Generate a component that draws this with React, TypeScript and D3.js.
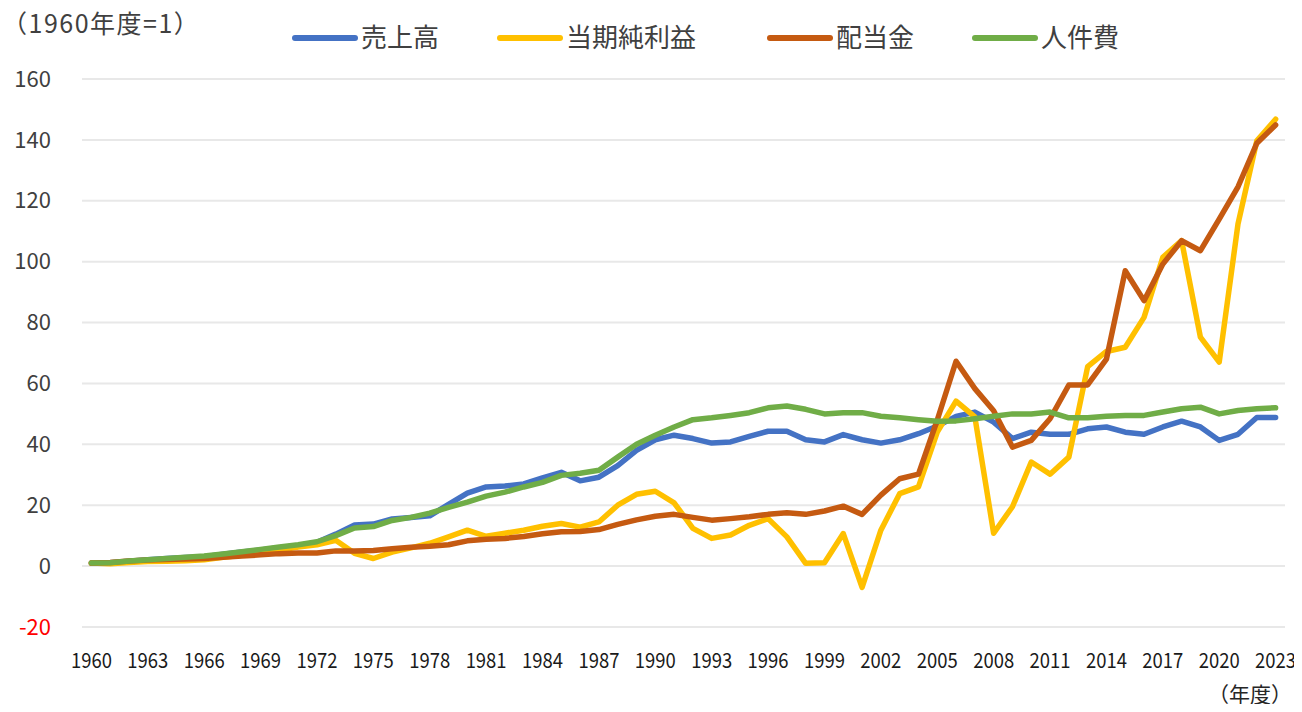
import { useEffect, useRef } from 'react'
import { line, scaleLinear, scalePoint, select } from 'd3'

const years = Array.from({ length: 64 }, (_, i) => 1960 + i)

const sales = [
  1, 1.1, 1.6, 2.1, 2.5, 2.8, 3.1, 3.9, 4.6, 5.3,
  6.0, 6.8, 7.8, 10.5, 13.5, 13.8, 15.5, 16, 16.5, 20.3,
  24, 26, 26.3, 27, 29, 30.8, 28, 29.2, 33, 38,
  41.5, 43, 41.9, 40.4, 40.8, 42.6, 44.3, 44.3, 41.5, 40.8,
  43.2, 41.5, 40.4, 41.5, 43.5, 46, 49.2, 50.6, 47.3, 41.9,
  44, 43.3, 43.3, 45.1, 45.7, 44, 43.3, 45.7, 47.6, 45.7,
  41.3, 43.3, 48.8, 48.8,
]

const netIncome = [
  1, 0.8, 1.2, 1.5, 1.6, 1.8, 2.1, 2.9, 3.6, 4.5,
  5.2, 6.3, 7.0, 8.5, 4.2, 2.5, 4.6, 6, 7.5, 9.6,
  11.8, 9.8, 10.8, 11.8, 13.1, 14, 12.8, 14.5, 20, 23.6,
  24.6, 20.8, 12.4, 9.1, 10.2, 13.4, 15.6, 9.6, 0.9, 1.1,
  10.7, -7, 11.8, 23.8, 26, 44, 54.2, 49, 10.8, 19.5,
  34.2, 30.2, 35.8, 65.5, 70.5, 71.9, 81.7, 101.4, 106.9, 75.2,
  67, 112.4, 139.7, 146.8,
]

const dividends = [
  1, 1.2, 1.7, 2.0, 2.2, 2.3, 2.5, 2.9, 3.3, 3.7,
  4.1, 4.3, 4.3, 5, 5, 5.1, 5.7, 6.2, 6.5, 7.0,
  8.3, 8.8, 9.1, 9.7, 10.6, 11.3, 11.4, 12, 13.7, 15.2,
  16.4, 17, 16, 15.1, 15.6, 16.2, 17, 17.5, 17, 18.1,
  19.7, 17, 23.3, 28.7, 30.2, 48, 67.3, 58.3, 51, 39.1,
  41.3, 48.4, 59.5, 59.5, 68, 97, 87.2, 99.2, 106.9, 103.6,
  114, 124.6, 138.9, 144.9,
]

const laborCost = [
  1, 1.1, 1.7, 2.1, 2.5, 2.9, 3.3, 4.0, 4.7, 5.5,
  6.3, 7.0, 8.0, 10, 12.5, 13, 15, 16, 17.4, 19.3,
  21, 23, 24.3, 26, 27.5, 29.8, 30.5, 31.5, 35.8, 40,
  43, 45.7, 48.1, 48.7, 49.5, 50.4, 52, 52.6, 51.5, 50,
  50.4, 50.4, 49.2, 48.7, 48.1, 47.6, 47.7, 48.4, 49.2, 50,
  50, 50.6, 48.7, 48.7, 49.2, 49.5, 49.5, 50.6, 51.7, 52.2,
  50, 51.1, 51.7, 52,
]

const yTicks = [-20, 0, 20, 40, 60, 80, 100, 120, 140, 160]
const xTickYears = years.filter((y) => (y - 1960) % 3 === 0)

const series = [
  { name: '売上高', values: sales, color: '#4472C4' },
  { name: '当期純利益', values: netIncome, color: '#FFC000' },
  { name: '配当金', values: dividends, color: '#C55A11' },
  { name: '人件費', values: laborCost, color: '#70AD47' },
]

const legendX = [295, 500, 770, 975]

const W = 1302
const H = 712
const plot = { left: 82, right: 1285, top: 79, bottom: 627 }
const font = "'Noto Sans CJK JP', 'Noto Sans', sans-serif"

const App = () => {
  const ref = useRef<SVGSVGElement | null>(null)

  useEffect(() => {
    const svg = select(ref.current)
    svg.selectAll('*').remove()

    const x = scalePoint<number>()
      .domain(years)
      .range([plot.left, plot.right])
      .padding(0.5)
    const y = scaleLinear().domain([-20, 160]).range([plot.bottom, plot.top])

    // gridlines
    svg
      .append('g')
      .selectAll('line')
      .data(yTicks)
      .enter()
      .append('line')
      .attr('x1', plot.left)
      .attr('x2', plot.right)
      .attr('y1', (d) => y(d))
      .attr('y2', (d) => y(d))
      .attr('stroke', '#e8e8e8')
      .attr('stroke-width', 2)

    // y labels
    svg
      .append('g')
      .selectAll('text')
      .data(yTicks)
      .enter()
      .append('text')
      .attr('x', 51)
      .attr('y', (d) => y(d))
      .attr('dy', '0.35em')
      .attr('text-anchor', 'end')
      .attr('font-family', font)
      .attr('font-size', 22)
      .attr('fill', (d) => (d < 0 ? '#ff0000' : '#404040'))
      .text((d) => d)

    // x labels
    svg
      .append('g')
      .selectAll('text')
      .data(xTickYears)
      .enter()
      .append('text')
      .attr('x', (d) => x(d)!)
      .attr('y', 668)
      .attr('text-anchor', 'middle')
      .attr('font-family', font)
      .attr('font-size', 21)
      .attr('textLength', 41)
      .attr('lengthAdjust', 'spacingAndGlyphs')
      .attr('fill', '#1a1a1a')
      .text((d) => d)

    const path = line<number>()
      .x((_, i) => x(years[i])!)
      .y((d) => y(d))

    series.forEach((s) => {
      svg
        .append('path')
        .datum(s.values)
        .attr('d', path)
        .attr('fill', 'none')
        .attr('stroke', s.color)
        .attr('stroke-width', 5.5)
        .attr('stroke-linejoin', 'round')
        .attr('stroke-linecap', 'round')
    })

    // legend
    const legend = svg.append('g')
    series.forEach((s, i) => {
      legend
        .append('line')
        .attr('x1', legendX[i])
        .attr('x2', legendX[i] + 60)
        .attr('y1', 38)
        .attr('y2', 38)
        .attr('stroke', s.color)
        .attr('stroke-width', 6)
        .attr('stroke-linecap', 'round')
      legend
        .append('text')
        .attr('x', legendX[i] + 66)
        .attr('y', 38)
        .attr('dy', '0.36em')
        .attr('font-family', font)
        .attr('font-size', 26)
        .attr('fill', '#404040')
        .text(s.name)
    })

    svg
      .append('text')
      .attr('x', 2)
      .attr('y', 33)
      .attr('font-family', font)
      .attr('font-size', 25)
      .attr('letter-spacing', 1.5)
      .attr('fill', '#404040')
      .text('（1960年度=1）')

    svg
      .append('text')
      .attr('x', 1292)
      .attr('y', 702)
      .attr('text-anchor', 'end')
      .attr('font-family', font)
      .attr('font-size', 21)
      .attr('fill', '#262626')
      .text('（年度）')
  }, [])

  return <svg ref={ref} width={W} height={H} style={{ display: 'block', margin: -8 }} />
}

export default App
